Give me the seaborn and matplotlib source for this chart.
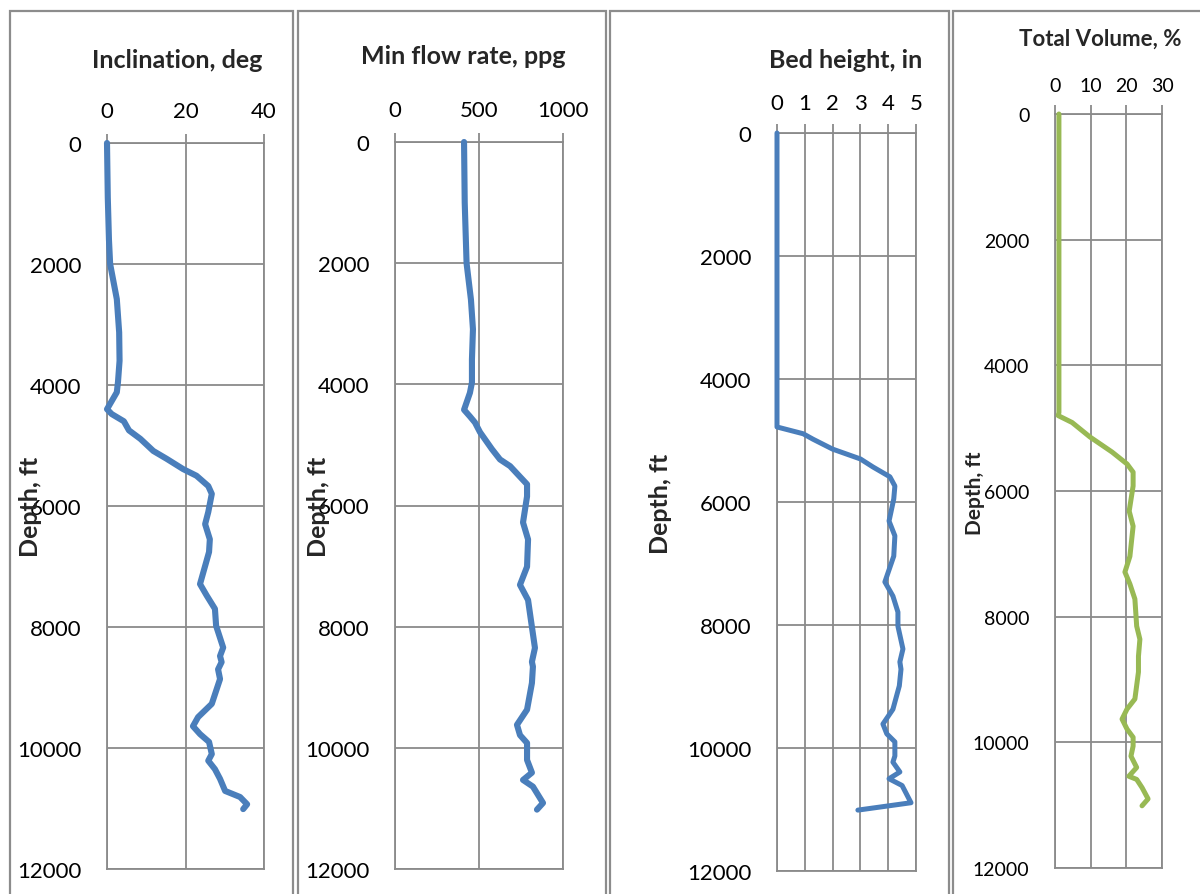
import matplotlib
matplotlib.use("Agg")
import matplotlib.pyplot as plt
from matplotlib.patches import Rectangle
import seaborn as sns
import pandas as pd

# ---------------- data ----------------
incl_depth = [0, 900, 1600, 2000, 2580, 3130, 3600, 3950, 4120, 4400, 4480, 4600, 4750,
              4890, 5090, 5220, 5390, 5500, 5670, 5800, 6100, 6300, 6550, 6760, 7290,
              7480, 7700, 7980, 8340, 8480, 8580, 8700, 8860, 9270, 9490, 9640, 9770,
              9900, 10100, 10210, 10350, 10510, 10710, 10810, 10930, 11010]
incl_deg = [0.0, 0.2, 0.5, 0.8, 2.5, 3.1, 3.2, 2.8, 2.5, 0.0, 1.2, 4.3, 5.6,
            8.5, 11.8, 15.2, 19.4, 22.8, 25.8, 26.7, 25.8, 25.0, 26.2, 26.0, 23.7,
            25.4, 27.5, 27.8, 29.6, 28.8, 29.2, 28.3, 28.8, 26.7, 23.2, 21.9, 23.7,
            26.0, 26.7, 25.8, 27.5, 28.8, 30.1, 33.9, 35.7, 34.7]

flow_depth = [0, 1000, 2000, 2600, 3090, 3590, 3970, 4140, 4420, 4530, 4630, 4790, 5070,
              5240, 5350, 5490, 5650, 5850, 6280, 6560, 7010, 7310, 7560, 7890, 8350,
              8580, 8660, 8930, 9370, 9620, 9790, 9920, 10200, 10410, 10530, 10640,
              10910, 11020]
flow_rate = [411, 415, 426, 452, 464, 458, 458, 446, 411, 446, 476, 506, 577,
             625, 685, 732, 786, 786, 762, 792, 786, 744, 792, 809, 833,
             815, 821, 815, 786, 726, 744, 786, 786, 815, 762, 821,
             881, 845]

bed_depth = [0, 4780, 4890, 4980, 5140, 5300, 5430, 5590, 5740, 5950, 6310, 6550, 6880,
             7300, 7530, 7790, 8020, 8390, 8600, 8720, 8990, 9370, 9610, 9770, 9900,
             10130, 10230, 10390, 10500, 10610, 10890, 11010]
bed_height = [0, 0, 0.94, 1.3, 2.0, 3.0, 3.45, 4.06, 4.24, 4.2, 4.03, 4.24, 4.2,
              3.88, 4.17, 4.35, 4.35, 4.53, 4.42, 4.46, 4.4, 4.17, 3.81, 3.95, 4.24,
              4.24, 4.17, 4.42, 4.03, 4.5, 4.82, 2.91]

vol_depth = [0, 4750, 4800, 4910, 5140, 5380, 5570, 5700, 5920, 6320, 6560, 7040, 7290,
             7480, 7720, 8150, 8360, 8630, 8880, 9310, 9470, 9630, 9790, 9920, 10060,
             10220, 10400, 10540, 10590, 10720, 10900, 11010]
vol_pct = [1.1, 1.1, 0.9, 4.8, 9.8, 16.0, 20.2, 21.9, 21.9, 20.8, 21.9, 21.0, 19.6,
           21.0, 22.4, 22.9, 23.8, 23.4, 23.4, 22.4, 20.2, 18.8, 20.2, 21.9, 21.9,
           21.3, 22.9, 20.7, 22.9, 24.4, 26.1, 24.4]

titles = ["Inclination, deg", "Min flow rate, ppg", "Bed height, in", "Total Volume, %"]
x_ticks = [[0, 20, 40], [0, 500, 1000], [0, 1, 2, 3, 4, 5], [0, 10, 20, 30]]
depth_ticks = [0, 2000, 4000, 6000, 8000, 10000, 12000]
y_label = "Depth, ft"

# ---------------- style ----------------
sns.set_style("white")
plt.rcParams["font.family"] = ["Lato", "DejaVu Sans"]

W, H = 1200, 895
fig = plt.figure(figsize=(W / 100, H / 100), dpi=100)

BLUE = "#4A7EBB"
GREEN = "#98B954"
GRID = "#8A8A8A"

# layout in pixels: (left, top, right, bottom) of plot area
areas = [(107, 144, 264, 870), (395, 143, 563, 870), (777, 134, 916, 872), (1055, 115, 1162, 869)]
borders = [(10, 293), (298, 606), (610, 949), (953, 1210)]
title_pos = [(177, 60, 18), (463, 57, 18), (846, 60, 18), (1100, 39, 16)]
ylabel_pos = [(31, 507, 18), (319, 507, 18), (661, 504, 18), (975, 493, 15)]
tick_fs = [16, 16, 16, 14]
x_pad = [9, 9, 8, 8]
line_w = [4.4, 4.4, 3.6, 3.6]
colors = [BLUE, BLUE, BLUE, GREEN]

series = [
    pd.DataFrame({"value": incl_deg, "depth": incl_depth}),
    pd.DataFrame({"value": flow_rate, "depth": flow_depth}),
    pd.DataFrame({"value": bed_height, "depth": bed_depth}),
    pd.DataFrame({"value": vol_pct, "depth": vol_depth}),
]

for i in range(4):
    # panel border
    bx0, bx1 = borders[i]
    fig.add_artist(Rectangle((bx0 / W, -0.05), (bx1 - bx0) / W, 1.05 - 12 / H,
                             transform=fig.transFigure, fill=False,
                             edgecolor="#8C8C8C", linewidth=1.6))
    l, t, r, b = areas[i]
    ax = fig.add_axes([l / W, (H - b) / H, (r - l) / W, (b - t) / H])
    sns.lineplot(data=series[i], x="value", y="depth", sort=False, estimator=None,
                 color=colors[i], ax=ax)
    for ln in ax.lines:
        ln.set_linewidth(line_w[i])
        ln.set_solid_capstyle("round")
        ln.set_solid_joinstyle("round")
        ln.set_clip_on(False)
        ln.set_zorder(3)
    xt = x_ticks[i]
    ax.set_xlim(xt[0], xt[-1])
    ax.set_ylim(12000, 0)
    ax.set_xticks(xt)
    ax.set_yticks(depth_ticks)
    ax.xaxis.tick_top()
    ax.xaxis.set_label_position("top")
    ax.set_xlabel("")
    ax.grid(True, color=GRID, linewidth=1.3)
    ax.set_axisbelow(True)
    for s in ax.spines.values():
        s.set_color(GRID)
        s.set_linewidth(1.3)
        s.set_zorder(1)
    ax.tick_params(axis="both", which="major", length=6.5, width=1.3, color=GRID,
                   labelsize=tick_fs[i], labelcolor="black", pad=12)
    ax.tick_params(axis="x", pad=x_pad[i])
    ax.set_ylabel(y_label, fontsize=ylabel_pos[i][2], fontweight="bold")
    ax.yaxis.set_label_coords(ylabel_pos[i][0] / W, (H - ylabel_pos[i][1]) / H,
                              transform=fig.transFigure)
    ax.yaxis.label.set_va("center")
    ax.yaxis.label.set_ha("center")
    tx, ty, tfs = title_pos[i]
    fig.text(tx / W, (H - ty) / H, titles[i], ha="center", va="center",
             fontsize=tfs, fontweight="bold")

fig.savefig("out.png", dpi=100, facecolor="white")
